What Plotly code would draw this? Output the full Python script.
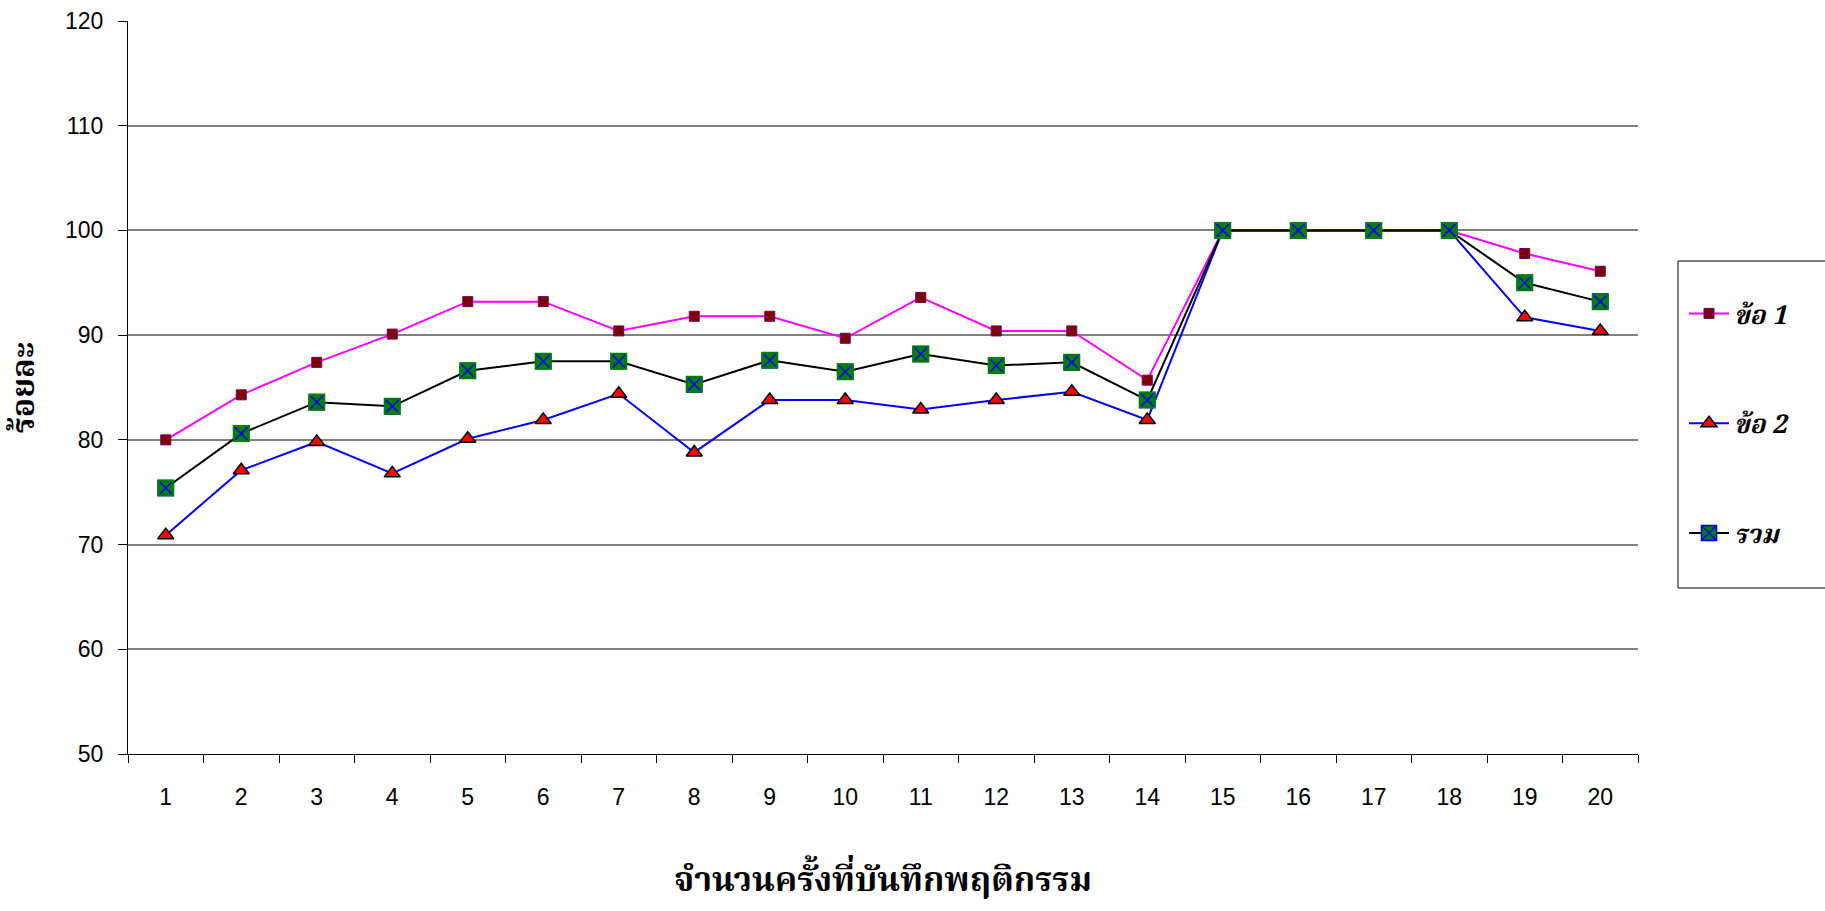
import plotly.graph_objects as go

# Recording sessions 1..20
sessions = [str(i) for i in range(1, 21)]

# Percentages per session
item1 = [80.0, 84.3, 87.4, 90.1, 93.2, 93.2, 90.4, 91.8, 91.8, 89.7,
         93.6, 90.4, 90.4, 85.7, 100.0, 100.0, 100.0, 100.0, 97.8, 96.1]
item2 = [70.9, 77.1, 79.8, 76.8, 80.1, 81.9, 84.4, 78.8, 83.8, 83.8,
         82.9, 83.8, 84.6, 81.9, 100.0, 100.0, 100.0, 100.0, 91.7, 90.4]
total = [75.4, 80.6, 83.6, 83.2, 86.6, 87.5, 87.5, 85.3, 87.6, 86.5,
         88.2, 87.1, 87.4, 83.8, 100.0, 100.0, 100.0, 100.0, 95.0, 93.2]

series_names = ["ข้อ 1", "ข้อ 2", "รวม"]
y_ticks = [50, 60, 70, 80, 90, 100, 110, 120]

x_title = "จำนวนครั้งที่บันทึกพฤติกรรม"
y_title = "ร้อยละ"

W, H = 1825, 911
L, R, T, B = 128, 187, 21, 157
plot_w = W - L - R
plot_h = H - T - B


def px_x(p):
    return (p - L) / plot_w


def px_y(p):
    return (H - B - p) / plot_h


thai_font = "Noto Serif Thai, Noto Sans Thai, Loma, Garuda, sans-serif"
num_font = "Liberation Sans, Arial, sans-serif"

fig = go.Figure()

fig.add_trace(go.Scatter(
    x=sessions, y=item1, name=series_names[0], mode="lines+markers",
    line=dict(color="#FF00FF", width=2),
    marker=dict(symbol="square", size=10, color="#800000",
                line=dict(color="#660066", width=1)),
    legendgroup="g1",
))
fig.add_trace(go.Scatter(
    x=sessions, y=item2, name=series_names[1], mode="lines+markers",
    line=dict(color="#0000FF", width=2),
    marker=dict(symbol="triangle-up", size=14, color="#FF0000",
                line=dict(color="#000000", width=1.5)),
    legendgroup="g2",
))
fig.add_trace(go.Scatter(
    x=sessions, y=total, name=series_names[2], mode="lines+markers",
    line=dict(color="#000000", width=2),
    marker=dict(symbol="square-x", size=15, color="#008000",
                line=dict(color="#0000FF", width=1.6)),
    legendgroup="g3",
))
# green rim over the square outline so only the blue cross shows
fig.add_trace(go.Scatter(
    x=sessions, y=total, mode="markers", showlegend=False, hoverinfo="skip",
    marker=dict(symbol="square-open", size=15, color="#008000",
                line=dict(color="#008000", width=2)),
    legendgroup="g3",
))

fig.update_layout(
    width=W, height=H,
    margin=dict(l=L, r=R, t=T, b=B, autoexpand=False),
    paper_bgcolor="white", plot_bgcolor="white",
    showlegend=True,
    legend=dict(
        x=px_x(1684), xanchor="left", y=px_y(290), yanchor="top",
        bgcolor="rgba(0,0,0,0)", borderwidth=0,
        font=dict(family=thai_font, size=26, color="black", weight="bold",
                  style="italic"),
        tracegroupgap=73, itemwidth=40,
    ),
    shapes=[dict(
        type="rect", xref="paper", yref="paper",
        x0=px_x(1678), x1=px_x(1835), y0=px_y(588), y1=px_y(261),
        line=dict(color="black", width=1), fillcolor="rgba(0,0,0,0)",
    )],
    annotations=[dict(
        text=x_title, xref="paper", yref="paper",
        x=0.5, xanchor="center", y=px_y(910), yanchor="bottom",
        showarrow=False, borderpad=0,
        font=dict(family=thai_font, size=34, color="black", weight="bold"),
    )],
)

fig.update_xaxes(
    type="category", range=[-0.5, 19.5],
    tickson="boundaries", ticks="outside", ticklen=8,
    tickcolor="black", tickwidth=1,
    showline=True, linecolor="black", linewidth=1.2,
    showgrid=False, zeroline=False,
    tickfont=dict(family=num_font, size=23, color="black"),
    ticklabelstandoff=22,
    automargin=False,
)
fig.update_yaxes(
    range=[50, 120], tickvals=y_ticks, ticks="outside", ticklen=9,
    tickcolor="black", tickwidth=1,
    showline=True, linecolor="black", linewidth=1.2,
    showgrid=True, gridcolor="#808080", gridwidth=1.5,
    zeroline=False,
    tickfont=dict(family=num_font, size=23, color="black"),
    ticklabelstandoff=10,
    title=dict(text=y_title, standoff=24,
               font=dict(family=thai_font, size=32, color="black",
                         weight="bold")),
    automargin=False,
)

fig.write_html("out.html")
